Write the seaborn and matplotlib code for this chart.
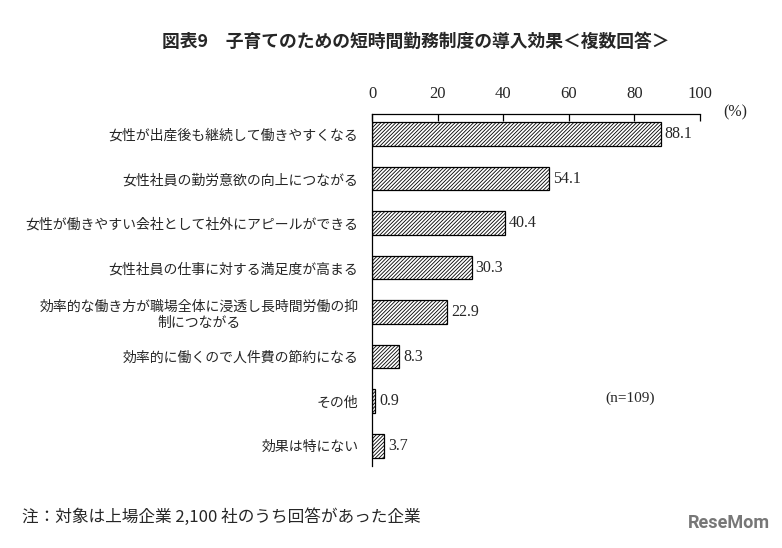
import pandas as pd
import matplotlib.pyplot as plt
import seaborn as sns

categories = [
    "女性が出産後も継続して働きやすくなる",
    "女性社員の勤労意欲の向上につながる",
    "女性が働きやすい会社として社外にアピールができる",
    "女性社員の仕事に対する満足度が高まる",
    "効率的な働き方が職場全体に浸透し長時間労働の抑\n制につながる",
    "効率的に働くので人件費の節約になる",
    "その他",
    "効果は特にない",
]
values = [88.1, 54.1, 40.4, 30.3, 22.9, 8.3, 0.9, 3.7]
ticks = [0, 20, 40, 60, 80, 100]

sns.set_theme(style="white")
plt.rcParams["font.family"] = ["Noto Sans CJK JP", "DejaVu Sans"]
plt.rcParams["hatch.linewidth"] = 0.6

df = pd.DataFrame({"item": categories, "pct": values})

fig = plt.figure(figsize=(7.82, 5.48), dpi=100)
ax = fig.add_axes([0.476, 0.15, 0.419, 0.642])

sns.barplot(data=df, x="pct", y="item", orient="h", color="white",
            edgecolor="black", linewidth=0.9, width=0.53, ax=ax)
for p in ax.patches:
    p.set_hatch("/////////")

serif = ["Liberation Serif", "DejaVu Serif"]
for i, v in enumerate(values):
    ax.text(v + 1.2, i, f"{v:.1f}", va="center", ha="left", fontsize=11.5,
            family=serif)

ax.set_xlim(0, 100)
ax.set_ylim(7.45, -0.45)
ax.xaxis.tick_top()
ax.set_xticks(ticks)
ax.set_xticklabels([str(t) for t in ticks], family=serif, fontsize=12)
ax.tick_params(axis="x", direction="in", length=5, width=0.9, color="black",
               pad=8.5, top=True)
ax.tick_params(axis="y", length=0, labelsize=10, pad=10)
for lbl in ax.get_yticklabels():
    lbl.set_multialignment("center")
ax.set_xlabel("")
ax.set_ylabel("")
for s in ["right", "bottom"]:
    ax.spines[s].set_visible(False)
for s in ["top", "left"]:
    ax.spines[s].set_color("black")
    ax.spines[s].set_linewidth(0.9)

fig.text(0.532, 0.923, "図表9　子育てのための短時間勤務制度の導入効果＜複数回答＞",
         ha="center", va="center", fontsize=12.8, fontweight="bold")
fig.text(0.94, 0.795, "(%)", ha="center", va="center", fontsize=11.5, family=serif)
fig.text(0.806, 0.273, "(n=109)", ha="center", va="center", fontsize=11,
         family=serif)
fig.text(0.028, 0.057, "注：対象は上場企業 2,100 社のうち回答があった企業",
         ha="left", va="center", fontsize=12)
fig.text(0.985, 0.03, "ReseMom", ha="right", va="bottom", fontsize=13,
         fontweight="bold", color="#777777", family=["Roboto", "DejaVu Sans"])

fig.savefig("out.png", dpi=100)
